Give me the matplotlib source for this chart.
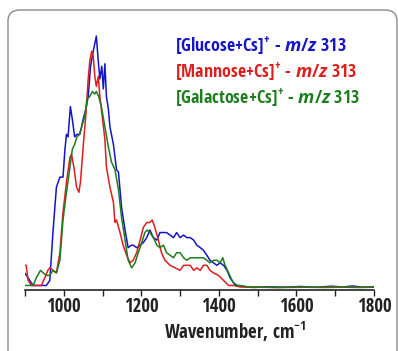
#
# Raman-like spectra of Cs-adducted hexoses (m/z 313)
#
import numpy as np
import matplotlib.pyplot as plt
from matplotlib.patches import FancyBboxPatch

plt.rcParams['font.family'] = ['Open Sans Condensed', 'DejaVu Sans']
plt.rcParams['mathtext.fontset'] = 'custom'
plt.rcParams['mathtext.rm'] = 'Open Sans Condensed:bold'
plt.rcParams['mathtext.bf'] = 'Open Sans Condensed:bold'
plt.rcParams['mathtext.it'] = 'Open Sans:italic:bold'

# Glucose
glc_x = [899, 908, 921, 955, 964, 972, 981, 990, 998, 1003, 1007, 1011, 1017, 1022, 1028,
         1034, 1041, 1046, 1050, 1057, 1063, 1069, 1076, 1080, 1084, 1089, 1093, 1098, 1102,
         1106, 1110, 1115, 1119, 1128, 1132, 1136, 1141, 1149, 1158, 1166, 1175, 1179, 1188,
         1197, 1205, 1214, 1222, 1231, 1240, 1248, 1257, 1265, 1274, 1283, 1291, 1300, 1309,
         1317, 1326, 1335, 1343, 1352, 1360, 1369, 1377, 1386, 1395, 1403, 1412, 1421, 1429,
         1438, 1447, 1472, 1490, 1530, 1570, 1610, 1650, 1690, 1720, 1745, 1770, 1800]
glc_y = [6, 4, 1, 1, 3, 22, 40, 44, 44, 55, 61, 60, 72, 67, 60,
         61, 61, 64, 67, 71, 76, 88, 94, 97, 100, 90, 83, 88, 79,
         89, 76, 71, 64, 57, 52, 47, 46, 32, 23, 16, 17, 17, 16,
         17, 18, 20, 23, 20, 19, 22, 22, 22, 21, 20, 22, 20, 21,
         20, 20, 19, 17, 16, 15, 13, 11, 10, 9, 10, 9, 7, 4,
         2, 1, 0.4, 0.2, 0.5, 0.3, 0.6, 0.3, 0.7, 0.4, 0.8, 0.3, 0.5]

# Mannose
man_x = [899, 903, 908, 916, 929, 942, 951, 959, 964, 972, 981, 990, 998, 1007, 1016, 1020,
         1026, 1033, 1039, 1043, 1050, 1057, 1063, 1067, 1072, 1076, 1080, 1084, 1089, 1093,
         1100, 1106, 1110, 1119, 1128, 1132, 1136, 1145, 1153, 1162, 1171, 1179, 1188, 1197,
         1205, 1214, 1222, 1228, 1235, 1244, 1252, 1261, 1274, 1287, 1300, 1309, 1317, 1326,
         1335, 1343, 1352, 1360, 1369, 1377, 1386, 1399, 1412, 1425, 1438, 1455, 1500, 1550,
         1600, 1650, 1700, 1750, 1800]
man_y = [9, 9, 3, 1, 1, 1, 4, 7, 8, 7, 6, 14, 30, 42, 52, 53,
         48, 40, 38, 42, 56, 69, 83, 90, 94, 92, 84, 80, 84, 76,
         67, 59, 48, 40, 34, 26, 27, 22, 17, 13, 10, 11, 14, 19,
         24, 26, 26, 27, 24, 19, 14, 11, 9, 8, 7, 9, 9, 9,
         7, 8, 7, 9, 9, 7, 6, 5, 3, 1, 1, 0.4, 0.3, 0.2,
         0.4, 0.3, 0.5, 0.3, 0.4]

# Galactose
gal_x = [899, 908, 921, 929, 940, 947, 955, 964, 972, 981, 990, 998, 1007, 1016, 1022, 1028,
         1034, 1041, 1048, 1054, 1060, 1067, 1074, 1080, 1084, 1090, 1097, 1106, 1115, 1123,
         1132, 1141, 1149, 1158, 1166, 1175, 1184, 1192, 1201, 1209, 1215, 1222, 1231, 1240,
         1248, 1257, 1265, 1274, 1283, 1291, 1300, 1309, 1317, 1326, 1335, 1343, 1352, 1360,
         1369, 1377, 1386, 1395, 1403, 1410, 1416, 1425, 1434, 1442, 1455, 1477, 1520, 1570,
         1620, 1670, 1720, 1760, 1800]
gal_y = [1, 1, 1, 4, 7, 6, 5, 5, 7, 6, 11, 27, 38, 48, 55, 57,
         60, 61, 65, 68, 75, 76, 78, 77, 78, 76, 72, 64, 56, 50,
         47, 39, 28, 19, 11, 8, 10, 14, 18, 22, 23, 22, 20, 17,
         16, 17, 14, 13, 12, 14, 14, 12, 11, 12, 12, 12, 12, 12,
         11, 10, 11, 11, 10, 12, 9, 6, 3, 1, 1, 0.4, 0.3, 0.2,
         0.3, 0.2, 0.3, 0.2, 0.3]

labels = [r'[Glucose+Cs]$^{+}$ - $\mathit{m/z}$ 313',
          r'[Mannose+Cs]$^{+}$ - $\mathit{m/z}$ 313',
          r'[Galactose+Cs]$^{+}$ - $\mathit{m/z}$ 313']
colors = ['#1414c8', '#dc1e1e', '#1e7d1e']

fig = plt.figure(figsize=(3.98, 3.51), dpi=100)
ax = fig.add_axes([25/398, 61/351, 349/398, 260/351])

# rounded frame around the panel
frame = FancyBboxPatch((8/398, -0.1), 389/398, 1.1 - 10/351,
                       boxstyle='round,pad=0,rounding_size=0.03',
                       transform=fig.transFigure, fill=False,
                       edgecolor='#8a8a8a', linewidth=1.0, zorder=0)
fig.patches.append(frame)

for xs, ys, c in zip([glc_x, man_x, gal_x], [glc_y, man_y, gal_y], colors):
    ax.plot(xs, ys, color=c, linewidth=1.1)

for i, (lab, c) in enumerate(zip(labels, colors)):
    fig.text(175/398, 1 - (51 + 26*i)/351, lab, color=c, fontsize=13,
             fontweight='bold', ha='left', va='baseline')

ax.set_xlim(900, 1800)
ax.set_ylim(-0.8, 102.4)
ax.set_xticks(np.arange(900, 1801, 100))
ax.set_xticklabels(['' if t % 200 else str(t) for t in range(900, 1801, 100)])
ax.tick_params(axis='x', direction='out', length=4, width=1, pad=1,
               labelsize=13.5, colors='#222222')
for lab in ax.get_xticklabels():
    lab.set_fontweight('bold')
ax.set_yticks([])
for side in ['left', 'right', 'top']:
    ax.spines[side].set_visible(False)
ax.spines['bottom'].set_color('#222222')
ax.spines['bottom'].set_linewidth(1.2)

ax.set_xlabel(r'Wavenumber, cm$^{\mathbf{-1}}$', fontsize=13.5, fontweight='bold',
              color='#222222', labelpad=2)
ax.xaxis.set_label_coords((235 - 25)/349, -0.115)

fig.savefig('out.png', dpi=100)
plt.close()
